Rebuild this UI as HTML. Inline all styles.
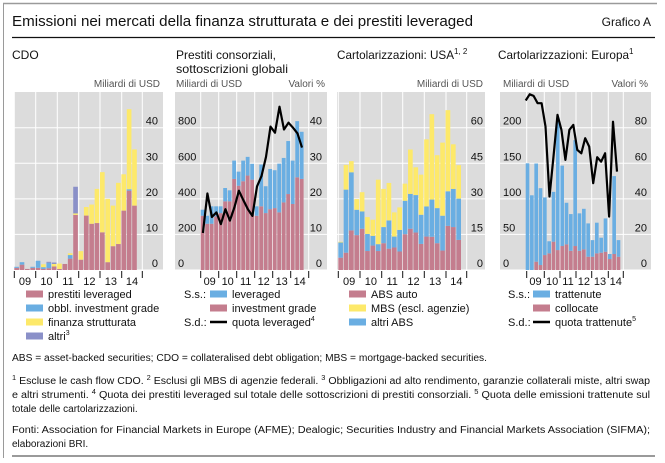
<!DOCTYPE html>
<html><head><meta charset="utf-8">
<style>
html,body{margin:0;padding:0;background:#fff;}
svg{display:block;font-family:"Liberation Sans",sans-serif;}
</style></head>
<body>
<svg id="chart" width="665" height="463" viewBox="0 0 665 463" xmlns="http://www.w3.org/2000/svg">
<line x1="3" y1="3.5" x2="657" y2="3.5" stroke="#9a9a9a" stroke-width="1.5"/>
<line x1="3.5" y1="3" x2="3.5" y2="458" stroke="#9a9a9a" stroke-width="1"/>
<line x1="12" y1="456" x2="655" y2="456" stroke="#9a9a9a" stroke-width="2"/>
<text x="12" y="26" font-size="15" textLength="461" lengthAdjust="spacingAndGlyphs" fill="#111">Emissioni nei mercati della finanza strutturata e dei prestiti leveraged</text>
<text x="651" y="26" font-size="12" text-anchor="end" fill="#111">Grafico A</text>
<line x1="12" y1="37.5" x2="655" y2="37.5" stroke="#111" stroke-width="1.3"/>

<text x="12" y="59" font-size="12" fill="#111">CDO</text>
<text x="176" y="59" font-size="12" textLength="100" lengthAdjust="spacingAndGlyphs" fill="#111">Prestiti consorziali,</text>
<text x="176" y="73" font-size="12" textLength="112" lengthAdjust="spacingAndGlyphs" fill="#111">sottoscrizioni globali</text>
<text x="337" y="59" font-size="12" fill="#111"><tspan textLength="117" lengthAdjust="spacingAndGlyphs">Cartolarizzazioni: USA</tspan><tspan font-size="8" dy="-5">1, 2</tspan></text>
<text x="498" y="59" font-size="12" fill="#111"><tspan textLength="131" lengthAdjust="spacingAndGlyphs">Cartolarizzazioni: Europa</tspan><tspan font-size="8" dy="-5">1</tspan></text>

<g id="plots"></g>

<g font-size="10" fill="#111">
<text x="12" y="361" textLength="475" lengthAdjust="spacingAndGlyphs">ABS = asset-backed securities; CDO = collateralised debt obligation; MBS = mortgage-backed securities.</text>
<text x="12" y="384" textLength="638" lengthAdjust="spacingAndGlyphs"><tspan font-size="7" dy="-4">1</tspan><tspan dy="4">  Escluse le cash flow CDO.   </tspan><tspan font-size="7" dy="-4">2</tspan><tspan dy="4">  Esclusi gli MBS di agenzie federali.   </tspan><tspan font-size="7" dy="-4">3</tspan><tspan dy="4">  Obbligazioni ad alto rendimento, garanzie collaterali miste, altri swap</tspan></text>
<text x="12" y="398" textLength="638" lengthAdjust="spacingAndGlyphs">e altri strumenti.   <tspan font-size="7" dy="-4">4</tspan><tspan dy="4">  Quota dei prestiti leveraged sul totale delle sottoscrizioni di prestiti consorziali.   </tspan><tspan font-size="7" dy="-4">5</tspan><tspan dy="4">  Quota delle emissioni trattenute sul</tspan></text>
<text x="12" y="412">totale delle cartolarizzazioni.</text>
<text x="12" y="433" textLength="638" lengthAdjust="spacingAndGlyphs">Fonti: Association for Financial Markets in Europe (AFME); Dealogic; Securities Industry and Financial Markets Association (SIFMA);</text>
<text x="12" y="447">elaborazioni BRI.</text>
</g>
</svg>
<script>
// ---- data ----
const years = ["09","10","11","12","13","14"];
// Panel 1: CDO (USD bn), stacked components
const cdoLeveraged = [0.6,1.5,0.3,0.6,0.6,0.3,0.5,1.0,0.3,1.7,3.2,15.5,2.9,15.3,13,13.2,10.6,2.2,6.7,7.3,16.7,22.3,18.1];
const cdoInvGrade  = [0.3,0.7,0,0.3,2.0,0.5,1.5,0,0,0,1.0,0,0,0,0,0,0,0,0,0,0,0.4,0];
const cdoStructured= [0,0,0,0,0,0.8,0,0.7,1.5,0,0.5,0.4,2.4,2.4,5.4,9.6,16.9,17.8,11.4,17.2,10.2,22.5,15.8];
const cdoOther     = [0,0,0,0,0,0,0.3,0.4,0,0,0,7.5,0,0,0,0,0,0,0,0,0,0,0];
const cdoTicks = [0,10,20,30,40];
// Panel 2: syndicated loans (USD bn) and leveraged share (%)
const loanInvGrade = [305,260,260,301,320,386,386,512,474,499,531,508,305,358,320,342,348,324,380,427,371,521,512];
const loanLeveraged= [34,45,98,57,38,75,62,103,79,116,105,89,53,235,151,226,213,274,250,298,244,316,265];
const loanLevShare = [10.4,21.5,14.9,16.2,12.9,17.1,13.9,17.6,22.3,19.6,17.1,15.2,23.5,26.4,31.8,40.3,38.6,45.9,39.5,41.4,40,38.4,34.4];
const loanTicksL = [0,200,400,600,800];
const loanTicksR = [0,10,20,30,40];
// Panel 3: US securitisation (USD bn)
const usAuto  = [5.2,7.3,16.7,14.7,17.4,8,10.3,8,11.3,9,9.5,7.8,15.1,17.4,15.8,11,14.1,14,11.3,8.2,18.6,18.1,12.7];
const usOther = [6.4,26.6,24.5,10.7,7.3,7.2,4.1,2.9,6.8,11.9,4.6,9.1,14.1,14.7,15.8,12.3,12.7,15.7,14.8,14.7,14.6,16.1,17.4];
const usMbs   = [0.3,10.4,4.7,4.5,8.1,7.1,6.8,27.2,16.1,15.8,10.2,9.5,7.2,18.7,11.7,16.9,28.3,36,22.3,30.8,34.2,18.8,14.1];
const usTicks = [0,15,30,45,60];
// Panel 4: European securitisation (USD bn) and retained share (%)
const euPlaced   = [0,0,11.7,7,21,23.4,39.8,28,33.7,36,27,33.7,27,29,18.7,18.7,23.4,24.3,25.7,15.4,22.5,18.7];
const euRetained = [150,105,138,108,81,17,70,186,113,58.5,51.6,148.8,52.6,57,46.8,23.3,43.1,21.1,46.8,7.1,109.5,23.3];
const euRetShare = [95.3,98.8,97.9,93.8,93.8,80.6,41.3,63.8,87.2,78.8,61.9,78.8,81.6,67.5,65.6,74.1,69.4,48.8,63.4,60.9,65.6,30,83.4,55.3];
const euTicksL = [0,50,100,150,200];
const euTicksR = [0,20,40,60,80];

const PINK="#c47d8e", BLUE="#6aaee2", YEL="#fde96a", PURP="#8a90c8", BG="#dcdcdc";
const NS="http://www.w3.org/2000/svg";
const root=document.getElementById('plots');
function mk(tag,attrs,parent){const e=document.createElementNS(NS,tag);for(const k in attrs)e.setAttribute(k,attrs[k]);(parent||root).appendChild(e);return e;}
const Y0=270, YT=127.7, BGTOP=92;

function panel(c){
  const g=mk('g',{});
  
  
  const bg=mk('rect',{x:c.bx0,y:BGTOP,width:c.bx1-c.bx0,height:Y0-BGTOP,fill:BG},g);
  
  
  const ysc=v=>Y0-v/c.max*(Y0-YT);
  c.ticks.forEach(t=>{const l=mk('line',{x1:c.bx0,x2:c.bx1,y1:ysc(t),y2:ysc(t),stroke:'#fff','stroke-width':1},g);
    
    });
  c.yt.forEach(x=>{const l=mk('line',{x1:x,x2:x,y1:BGTOP,y2:Y0,stroke:'#fff','stroke-width':1},g);
    
    });
  const n=c.series[0].data.length, sw=(c.bar1-c.bar0)/n;
  for(let i=0;i<n;i++){let acc=0;
    c.series.forEach(s=>{const v=s.data[i]; if(!v) return;
      const r=mk('rect',{x:c.bar0+i*sw,y:ysc(acc+v),width:sw-0.7,height:ysc(acc)-ysc(acc+v),fill:s.color},g);
      
      
      acc+=v;});
  }
  if(c.line){const m=c.line.data.length, ls=(c.line.x1-c.line.x0)/(m-1), ysr=v=>Y0-v/c.rmax*(Y0-YT);
    const p=c.line.data.map((v,i)=>(c.line.x0+i*ls).toFixed(1)+','+ysr(v).toFixed(1)).join(' ');
    const pl=mk('polyline',{points:p,fill:'none',stroke:'#000','stroke-width':2.2,'stroke-linejoin':'round'},g);
    
    
  }
  if(c.lx!=null) c.ticks.forEach(t=>{const e=mk('text',{x:c.lx,y:ysc(t)-3,'font-size':11,fill:'#111'},g);e.textContent=t;
    
    });
  if(c.rx!=null){const rt=c.rticks||c.ticks;rt.forEach((t,i)=>{const e=mk('text',{x:c.rx,y:ysc(c.ticks[i])-3,'font-size':11,'text-anchor':'end',fill:'#111'},g);e.textContent=t;
    
    });}
  c.yt.forEach(x=>{const l=mk('line',{x1:x,x2:x,y1:271,y2:278,stroke:'#111','stroke-width':1},g);
    
    });
  years.forEach((yv,i)=>{const e=mk('text',{x:(c.yt[i]+c.yt[i+1])/2,y:285,'font-size':11,'text-anchor':'middle',fill:'#111'},g);e.textContent=yv;
    
    });
  c.units.forEach(u=>{const e=mk('text',{x:u[0],y:87,'font-size':10,fill:'#555','text-anchor':u[2]},g);e.textContent=u[1];
    
    });
  c.legend.forEach((L,i)=>{const y=294+i*14;
    if(L.pre){const e=mk('text',{x:L.preX,y:y+4,'font-size':11,fill:'#111'},g);e.textContent=L.pre;
      
      }
    let s;
    if(L.line){s=mk('line',{x1:c.sx,x2:c.sx+17,y1:y,y2:y,stroke:'#000','stroke-width':2.5},g);}
    else s=mk('rect',{x:c.sx,y:y-3.5,width:17,height:7,fill:L.color},g);
    
    
    const t=mk('text',{x:c.sx+22,y:y+4,'font-size':11,fill:'#111'},g);t.textContent=L.label;
    
    
    if(L.sup){const sp=mk('tspan',{'font-size':7,dy:-5},t);sp.textContent=L.sup;}
  });
}
panel({name:'cdo-panel',bx0:14,bx1:163,bar0:14.3,bar1:137.5,max:40,ticks:cdoTicks,rx:158,
  yt:[14.3,35.7,57.3,78.7,100,121.7,142.3],
  series:[{key:'leveraged',data:cdoLeveraged,color:PINK},{key:'invgrade',data:cdoInvGrade,color:BLUE},{key:'structured',data:cdoStructured,color:YEL},{key:'other',data:cdoOther,color:PURP}],
  units:[[160,'Miliardi di USD','end']],sx:26,
  legend:[{color:PINK,label:'prestiti leveraged'},{color:BLUE,label:'obbl. investment grade'},{color:YEL,label:'finanza strutturata'},{color:PURP,label:'altri',sup:'3'}]});
panel({name:'loans-panel',bx0:175,bx1:327,bar0:200.7,bar1:304.3,max:800,ticks:loanTicksL,lx:178,rx:322,rticks:loanTicksR,rmax:40,
  yt:[200.7,218.7,236.7,254.7,272.7,290.7,308.7],
  series:[{key:'investment-grade',data:loanInvGrade,color:PINK},{key:'leveraged',data:loanLeveraged,color:BLUE}],
  line:{key:'leveraged-share',data:loanLevShare,x0:202.9,x1:302},
  units:[[176,'Miliardi di USD','start'],[325,'Valori %','end']],sx:210,
  legend:[{pre:'S.s.:',preX:184,color:BLUE,label:'leveraged'},{color:PINK,label:'investment grade'},{pre:'S.d.:',preX:184,line:1,label:'quota leveraged',sup:'4'}]});
panel({name:'us-securitisation-panel',bx0:337,bx1:485,bar0:338.3,bar1:461.7,max:60,ticks:usTicks,rx:483,
  yt:[338.3,360,381.7,402.7,424.3,446,466.7],
  series:[{key:'abs-auto',data:usAuto,color:PINK},{key:'other-abs',data:usOther,color:BLUE},{key:'mbs',data:usMbs,color:YEL}],
  units:[[483,'Miliardi di USD','end']],sx:349,
  legend:[{color:PINK,label:'ABS auto'},{color:YEL,label:'MBS (escl. agenzie)'},{color:BLUE,label:'altri ABS'}]});
panel({name:'eu-securitisation-panel',bx0:500,bx1:651,bar0:525.7,bar1:621,max:200,ticks:euTicksL,lx:503,rx:647,rticks:euTicksR,rmax:80,
  yt:[526.7,544.3,560,576,591.7,608.3,623.3],
  series:[{key:'placed',data:euPlaced,color:PINK},{key:'retained',data:euRetained,color:BLUE}],
  line:{key:'retained-share',data:euRetShare,x0:525.7,x1:617},
  units:[[503,'Miliardi di USD','start'],[648,'Valori %','end']],sx:533,
  legend:[{pre:'S.s.:',preX:508,color:BLUE,label:'trattenute'},{color:PINK,label:'collocate'},{pre:'S.d.:',preX:508,line:1,label:'quota trattenute',sup:'5'}]});
</script>
</body></html>
